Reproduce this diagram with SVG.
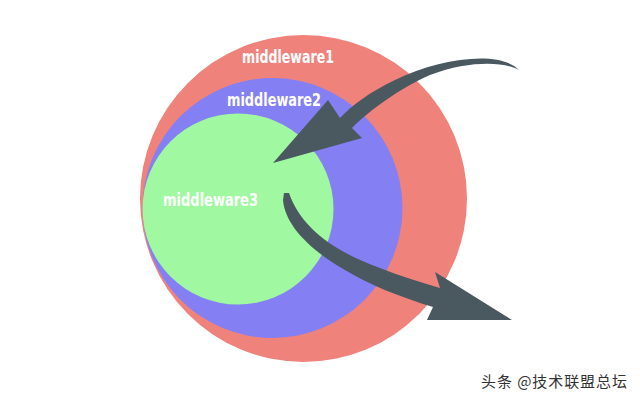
<svg xmlns="http://www.w3.org/2000/svg" width="640" height="400" viewBox="0 0 640 400">
<style>
.lbl{font-family:"DejaVu Sans Condensed","Liberation Sans Narrow","Liberation Sans",sans-serif;font-weight:bold;font-size:17px;fill:#ffffff}
.arrow{fill:#4a5860}
.wm{font-family:"Noto Sans CJK SC","Noto Sans",sans-serif;font-size:15px;fill:#333333}
</style>
<rect width="640" height="400" fill="#ffffff"/>
<g id="middleware1">
<circle cx="303.5" cy="198.5" r="163.5" fill="#f0827c"/>
<text class="lbl" x="242" y="63" textLength="92" lengthAdjust="spacingAndGlyphs">middleware1</text>
</g>
<g id="middleware2">
<circle cx="272.5" cy="208" r="130" fill="#8480f4"/>
<text class="lbl" x="227" y="106" textLength="94" lengthAdjust="spacingAndGlyphs">middleware2</text>
</g>
<g id="middleware3">
<circle cx="238" cy="209" r="95.5" fill="#a0f8a0"/>
<text class="lbl" x="163" y="206" textLength="95" lengthAdjust="spacingAndGlyphs">middleware3</text>
</g>
<g id="connectors">
<path class="arrow" d="M519,70 C500,50 440,58 395,80 C370,92 352,105 340,118 L328,100 L273,163 L362,138 L352,128 C370,110 400,88 430,75 C470,60 505,62 519,70 Z"/>
<path class="arrow" d="M284,193 L289,193 C300,225 330,250 380,268 C400,276 420,282 440,288 L435,272 L512,320 L427,320 L433,307 C400,297 370,285 345,270 C310,250 285,225 283,200 Z"/>
</g>
<text class="wm" x="481" y="387" textLength="146" lengthAdjust="spacing">头条 @技术联盟总坛</text>
</svg>
